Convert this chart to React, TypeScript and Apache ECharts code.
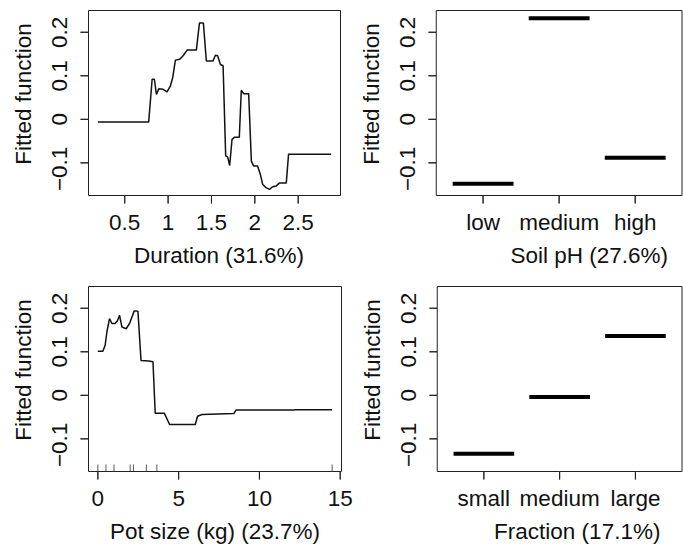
import React, { useEffect, useRef } from "react";
import * as echarts from "echarts";

// Duration panel (partial dependence curve)
const durationX = [0.19, 0.776, 0.816, 0.842, 0.865, 0.892, 0.942, 0.988, 1.027, 1.053, 1.084, 1.134, 1.173, 1.219, 1.326, 1.361, 1.407, 1.441, 1.518, 1.545, 1.571, 1.603, 1.634, 1.664, 1.687, 1.71, 1.737, 1.767, 1.821, 1.844, 1.871, 1.929, 1.96, 1.986, 2.032, 2.063, 2.09, 2.129, 2.17, 2.205, 2.248, 2.286, 2.363, 2.389, 2.88];
const durationY = [-0.006, -0.006, 0.092, 0.092, 0.057, 0.07, 0.069, 0.063, 0.077, 0.096, 0.136, 0.138, 0.146, 0.159, 0.159, 0.221, 0.221, 0.134, 0.134, 0.147, 0.146, 0.126, 0.123, -0.084, -0.087, -0.106, -0.046, -0.041, -0.041, 0.067, 0.059, 0.059, -0.096, -0.107, -0.107, -0.126, -0.149, -0.157, -0.161, -0.155, -0.153, -0.146, -0.146, -0.08, -0.08];
const durationTicks = [0.5, 1, 1.5, 2, 2.5];

// Pot size panel
const potX = [0, 0.31, 0.45, 0.56, 0.72, 0.87, 1.07, 1.22, 1.34, 1.49, 1.75, 1.96, 2.11, 2.25, 2.48, 2.67, 3.14, 3.41, 3.55, 4.11, 4.44, 6.03, 6.17, 6.45, 8.41, 8.55, 12.1, 12.2, 14.5];
const potY = [0.101, 0.101, 0.115, 0.146, 0.176, 0.165, 0.165, 0.172, 0.184, 0.157, 0.153, 0.165, 0.18, 0.194, 0.193, 0.08, 0.079, 0.077, -0.041, -0.041, -0.067, -0.067, -0.048, -0.044, -0.042, -0.034, -0.034, -0.033, -0.033];
const potRug = [0, 0.5, 1, 2, 2.2, 3, 3.65, 14.5];
const potTicks = [0, 5, 10, 15];

// Factor panels
const soilLevels = ["low", "medium", "high"];
const soilValues = [-0.148, 0.232, -0.088];
const fractionLevels = ["small", "medium", "large"];
const fractionValues = [-0.134, -0.004, 0.136];
const factorTicks = [1, 2, 3];

const yTicks = [-0.1, 0, 0.1, 0.2];
const Y_MIN = -0.175;
const Y_MAX = 0.25;

const FONT = "'Liberation Sans', Arial, Helvetica, sans-serif";
const FS = 22.5;
const TXT = "#111";
const LINE = "#222";

// plotting region (data range) of each panel
const xRanges = [
  [0.082, 2.988],
  [0.385, 3.615],
  [-0.58, 15.08],
  [0.385, 3.615],
];
const xTickSets = [durationTicks, factorTicks, potTicks, factorTicks];

// layout: the framed box of each panel in pixels
const boxes = [
  { x: 88.5, y: 10.5, w: 252, h: 185 },
  { x: 436.5, y: 10.5, w: 252, h: 185 },
  { x: 88.5, y: 286.5, w: 253, h: 185 },
  { x: 437.5, y: 286.5, w: 252, h: 185 },
];
const PAD_LB = 9; // room for outward ticks (left / bottom)
const PAD_TR = 1;
const TICK_PX = 8;

function gridOf(i: number) {
  const b = boxes[i];
  return {
    left: b.x - PAD_LB,
    top: b.y - PAD_TR,
    width: b.w + PAD_LB + PAD_TR,
    height: b.h + PAD_LB + PAD_TR,
  };
}

function extX(i: number) {
  const [x0, x1] = xRanges[i];
  const u = (x1 - x0) / boxes[i].w;
  return [x0 - PAD_LB * u, x1 + PAD_TR * u];
}

function extY(i: number) {
  const u = (Y_MAX - Y_MIN) / boxes[i].h;
  return [Y_MIN - PAD_LB * u, Y_MAX + PAD_TR * u];
}

function yAxis(i: number) {
  const [lo, hi] = extY(i);
  return {
    type: "value",
    gridIndex: i,
    min: lo,
    max: hi,
    position: "left",
    axisLine: { show: false, onZero: false },
    splitLine: { show: false },
    axisTick: { show: false },
    axisLabel: {
      customValues: yTicks,
      rotate: 90,
      margin: 18 - PAD_LB,
      color: TXT,
      fontFamily: FONT,
      fontSize: FS,
      formatter: (v: number) => (v < 0 ? "{m|\u2212" + Math.abs(v) + "}" : String(v)),
      rich: {
        m: { padding: [0, 12, 0, 0], color: TXT, fontFamily: FONT, fontSize: FS },
      },
    },
    name: "Fitted function",
    nameLocation: "middle",
    nameGap: 54 - PAD_LB,
    nameTextStyle: { color: TXT, fontFamily: FONT, fontSize: FS, padding: [0, 0, 0, 26] },
  };
}

function xAxis(i: number, name: string, shift: number, fmt?: (v: number) => string) {
  const [lo, hi] = extX(i);
  return {
    type: "value",
    gridIndex: i,
    min: lo,
    max: hi,
    position: "bottom",
    axisLine: { show: false, onZero: false },
    splitLine: { show: false },
    axisTick: { show: false },
    axisLabel: {
      customValues: xTickSets[i],
      margin: 15 - PAD_LB,
      color: TXT,
      fontFamily: FONT,
      fontSize: FS,
      formatter: fmt || ((v: number) => String(v)),
    },
    name,
    nameLocation: "middle",
    nameGap: 48 - PAD_LB,
    nameTextStyle: { color: TXT, fontFamily: FONT, fontSize: FS, padding: [0, 0, 0, shift] },
  };
}

// box around each panel with its outward tick marks, traced as one polyline
// through the panel's own axes
function frameSeries(i: number) {
  const [x0, x1] = xRanges[i];
  const dy = (TICK_PX * (Y_MAX - Y_MIN)) / boxes[i].h;
  const dx = (TICK_PX * (x1 - x0)) / boxes[i].w;
  const pts: number[][] = [[x0, Y_MIN]];
  xTickSets[i].forEach((t) => {
    pts.push([t, Y_MIN], [t, Y_MIN - dy], [t, Y_MIN]);
  });
  pts.push([x1, Y_MIN], [x1, Y_MAX], [x0, Y_MAX]);
  [...yTicks].sort((a, b) => b - a).forEach((t) => {
    pts.push([x0, t], [x0 - dx, t], [x0, t]);
  });
  pts.push([x0, Y_MIN]);
  return {
    type: "line",
    xAxisIndex: i,
    yAxisIndex: i,
    data: pts,
    symbol: "none",
    clip: false,
    lineStyle: { color: LINE, width: 1 },
    silent: true,
    z: 3,
  };
}

function factorSeries(values: number[], axisIndex: number) {
  return values.map((v, i) => ({
    type: "line",
    xAxisIndex: axisIndex,
    yAxisIndex: axisIndex,
    data: [
      [i + 1 - 0.4, v],
      [i + 1 + 0.4, v],
    ],
    symbol: "none",
    lineStyle: { color: "#000", width: 4, cap: "butt" },
    silent: true,
  }));
}

export default function App() {
  const ref = useRef<HTMLDivElement>(null);
  useEffect(() => {
    if (!ref.current) return;
    const chart = echarts.init(ref.current, null, { renderer: "svg" });
    const option = {
      animation: false,
      backgroundColor: "#fff",
      grid: [gridOf(0), gridOf(1), gridOf(2), gridOf(3)],
      xAxis: [
        xAxis(0, "Duration (31.6%)", 17),
        xAxis(1, "Soil pH (27.6%)", 68, (v: number) => soilLevels[Math.round(v) - 1] || ""),
        xAxis(2, "Pot size (kg) (23.7%)", 8),
        xAxis(3, "Fraction (17.1%)", 43, (v: number) => fractionLevels[Math.round(v) - 1] || ""),
      ],
      yAxis: [yAxis(0), yAxis(1), yAxis(2), yAxis(3)],
      series: [
        frameSeries(0),
        frameSeries(1),
        frameSeries(2),
        frameSeries(3),
        {
          type: "line",
          xAxisIndex: 0,
          yAxisIndex: 0,
          data: durationX.map((x, i) => [x, durationY[i]]),
          symbol: "none",
          lineStyle: { color: "#111", width: 1.5 },
          silent: true,
        },
        ...factorSeries(soilValues, 1),
        {
          type: "line",
          xAxisIndex: 2,
          yAxisIndex: 2,
          data: potX.map((x, i) => [x, potY[i]]),
          symbol: "none",
          lineStyle: { color: "#111", width: 1.5 },
          silent: true,
        },
        {
          type: "scatter",
          xAxisIndex: 2,
          yAxisIndex: 2,
          data: potRug.map((x) => [x, Y_MIN]),
          symbol: "rect",
          symbolSize: [1, 7],
          symbolOffset: [0, -3.5],
          itemStyle: { color: "#333" },
          clip: false,
          silent: true,
        },
        ...factorSeries(fractionValues, 3),
      ],
    };
    chart.setOption(option as any);
    return () => chart.dispose();
  }, []);
  return (
    <div
      ref={ref}
      style={{ position: "absolute", left: 0, top: 0, width: 683, height: 546, background: "#fff" }}
    />
  );
}
